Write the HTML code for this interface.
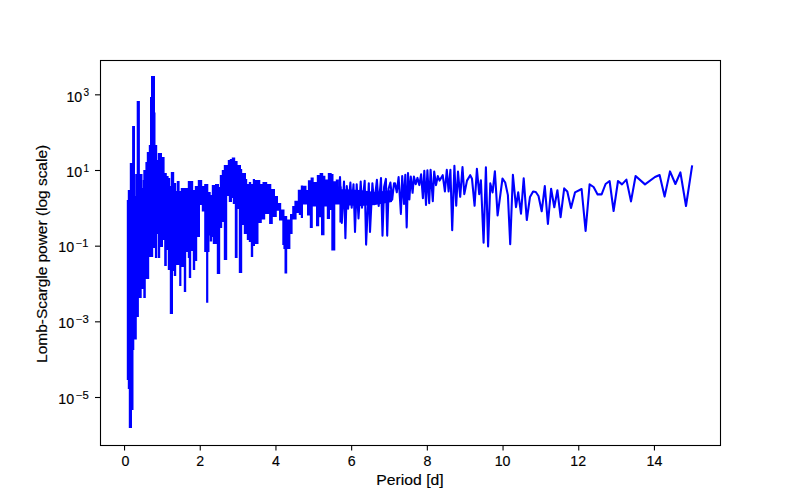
<!DOCTYPE html>
<html><head><meta charset="utf-8">
<style>
html,body{margin:0;padding:0;background:#fff;}
svg{display:block;}
text{font-family:"Liberation Sans",sans-serif;fill:#000;stroke:#000;stroke-width:0.15px;}
</style></head>
<body>
<svg width="800" height="500" viewBox="0 0 800 500">
<rect x="0" y="0" width="800" height="500" fill="#fff"/>
<path fill="#0000ff" d="M126.8 200h2.2v180h-2.2zM127.8 190h2.2v199h-2.2zM128.8 190h2.2v238h-2.2zM129.8 163h2.2v265h-2.2zM131.3 163h2.2v247h-2.2zM132.1 126h2.2v224h-2.2zM132.8 126h2.2v213.5h-2.2zM134.6 196h2.2v143.5h-2.2zM135.2 174h2.2v143h-2.2zM136.7 101h2.2v216h-2.2zM137.3 101h2.6v197h-2.6zM139.5 174h2.2v124h-2.2zM140.3 174h2.2v115h-2.2zM141.8 188h2.2v101h-2.2zM142.8 180h2.2v109h-2.2zM143.3 170h2.5v128h-2.5zM145.4 162h2.2v117h-2.2zM146.8 152h2.4v127h-2.4zM148.8 145h2.2v112h-2.2zM150 97h2.2v160h-2.2zM151 76h2.2v181h-2.2zM151.4 76h2.2v167h-2.2zM152.8 76h2.2v172h-2.2zM153.3 112.6h2.2v135.4h-2.2zM154.9 145h2.3v113h-2.3zM156.8 160h2.2v74h-2.2zM157.8 153h2.4v105h-2.4zM159.8 153h2.2v94h-2.2zM160.8 157h2.2v90h-2.2zM161.8 157h2.8v83h-2.8zM164.2 173h2.6v93h-2.6zM166.4 176h2.2v74h-2.2zM167.8 178h2.4v92h-2.4zM169.8 186h2.2v128h-2.2zM170.8 172h2.2v142h-2.2zM171.8 172h2.4v99h-2.4zM173.8 183h2.4v93h-2.4zM175.8 191h2.2v74h-2.2zM176.8 181h2.8v84h-2.8zM179.2 191h2.2v95h-2.2zM180.4 191h2.2v76h-2.2zM180.8 188h3.4v79h-3.4zM183.8 188h2.4v104h-2.4zM185.8 188h2.4v64h-2.4zM187.8 181h2.2v77h-2.2zM188.8 181h2.4v97h-2.4zM190.8 181h2.4v70h-2.4zM192.8 190h2.4v80h-2.4zM194.8 186h2.4v75h-2.4zM196.8 186h2.2v51h-2.2zM197.8 180h2.2v57h-2.2zM199.4 180h2.8v25h-2.8zM201.8 186h2.8v25.6h-2.8zM204.2 184h2.3v68h-2.3zM206.1 184h2.2v118.7h-2.2zM207.3 192h2.2v60h-2.2zM208.5 192h2.2v43.6h-2.2zM209.8 195h2.4v46.6h-2.4zM211.8 185h2.2v52h-2.2zM212.8 185h2.6v59h-2.6zM215 184h2.2v60h-2.2zM216.8 184h2.2v90h-2.2zM217.8 187h2.4v87h-2.4zM219.8 175h2.4v53h-2.4zM221.8 170h2.4v52h-2.4zM223.8 165h3.4v95h-3.4zM226.8 165h2.2v31h-2.2zM227.8 160h2.2v36h-2.2zM228.8 160h2.2v42h-2.2zM229.8 159h2.2v43h-2.2zM230.8 159h2.2v39h-2.2zM231.8 157.4h2.2v40.6h-2.2zM232.8 157.4h2.4v46.6h-2.4zM234.8 161h2.8v97h-2.8zM237.2 165h2.2v44h-2.2zM238.8 165h2.2v108h-2.2zM239.8 169h2.4v104h-2.4zM241.8 173h2.4v52h-2.4zM243.8 173h2.2v61h-2.2zM244.8 179h2.4v55h-2.4zM246.8 184h2.4v56h-2.4zM248.8 182h2.4v60h-2.4zM250.8 184h2.4v73h-2.4zM252.8 179h2.2v67h-2.2zM254.6 180h3.9v64h-3.9zM258.1 180h2.2v43h-2.2zM259.2 184h2.6v39h-2.6zM261.4 184h2.2v35.5h-2.2zM262.5 182h2.7v37.5h-2.7zM264.8 182h2.4v32h-2.4zM266.8 184h2.7v30h-2.7zM269.1 184h2.2v40h-2.2zM270.2 189h2.6v35h-2.6zM272.4 189h2.6v28h-2.6zM274.6 196h2.2v21h-2.2zM275.8 196h2.2v14.7h-2.2zM276.8 203h2.6v7.7h-2.6zM279 203h2.2v17.6h-2.2zM280.1 209.6h2.6v11h-2.6zM282.3 209.6h2.2v35.4h-2.2zM283.4 216h2.2v33h-2.2zM284.5 216h2.7v57.4h-2.7zM286.8 219.5h3.6v29.5h-3.6zM290 214h2.6v20h-2.6zM292.2 206h2.6v13.5h-2.6zM294.4 200.8h2.2v18.7h-2.2zM295.5 200.8h2.7v12.2h-2.7zM297.8 189.8h2.2v23.2h-2.2zM298.8 189.8h2.4v25.2h-2.4zM300.8 185.4h2.2v32.6h-2.2zM302.5 185.7h4v18.9h-4zM306.1 190h2.2v14.6h-2.2zM307 190h2.2v25.4h-2.2zM307.9 180.3h2.3v35.1h-2.3zM309.8 180.3h2.2v47.7h-2.2zM310.6 177.6h2.2v50.4h-2.2zM311.5 177.6h2.2v28.8h-2.2zM313.3 182h3.1v24.4h-3.1zM316 182h2.2v44.2h-2.2zM316.8 175h2.4v51.2h-2.4zM318.8 175h2.2v42.2h-2.2zM319.6 173h2.2v44.2h-2.2zM321 173h2.2v62.2h-2.2zM322.3 175.8h2.2v59.4h-2.2zM322.8 175.8h2.6v30.6h-2.6zM325 179.4h2.2v27h-2.2zM326.8 179.4h2.2v39.6h-2.2zM327.8 173h2.2v46h-2.2zM329.5 173h2.2v37h-2.2zM330.4 174h2.2v36h-2.2zM331.3 174h2.2v76.5h-2.2zM333.1 181.2h2.2v69.3h-2.2zM334 181.2h2.2v23.4h-2.2zM335.8 179.4h3.1v25.2h-3.1zM338.5 186.6h2.2v18h-2.2zM339.4 186.6h2.2v36h-2.2zM340 189L360 190L375 192L392 190L392 202L375 205L360 206L340 205z"/>
<polyline fill="none" stroke="#0000ff" stroke-width="2.08" stroke-linejoin="round" stroke-linecap="square" points="339.5,186 340,177.1 341.8,223 344,181.6 345.4,238.3 346.8,186.1 348.1,208.6 350.4,182.5 351.7,207.7 353.5,184.3 355,232 356.7,184.3 358.5,218.5 360.7,181.6 362,207.7 364.7,180.7 366.1,244.6 368.8,183.4 370,232 372.4,183.4 374.2,204.1 376.9,179.8 378.7,205.9 381,178 382.5,235.6 384.1,187 385.9,178.9 387.2,235.6 388.6,188.8 390.4,182.5 392.2,199.6 394,183.4 395,183.3 396.8,192.3 398.6,177 400.9,213.9 402.2,176.1 404,204 405.3,174.8 406.7,227.4 408,173 409.4,199.5 410.8,176.6 412.6,192.8 413.9,176.6 415.7,184.2 417.5,177.9 419.3,185.1 421.1,174.3 422.9,198.2 424.3,170.7 426,204.9 427.4,170.2 429.2,203.1 430.6,169.8 432.8,201.3 434.2,171.6 436,185.1 437.8,176.1 439.6,180.6 442.7,175.2 444.9,191.4 446.8,169.8 448.6,191.4 450.4,169.8 452.2,230.1 454.4,165.8 456.2,205.8 458,171.6 460.2,196.8 462.5,167.1 464.3,194.1 467,180.6 470.2,175.2 472,178.8 474.6,205.8 476.9,168.9 479.2,194.1 480.9,180.2 483.6,242.8 485.9,167.2 488.1,246.4 490.3,183.4 492.6,192.4 494.9,171.2 497.6,215.4 502.5,178.5 505.2,182.5 507.9,195.1 510.2,244.2 512.9,174.8 516,207.2 518.2,192.4 521,213.6 523.7,178.4 526.8,220 530,196.9 533.1,191.5 535.8,192 538.5,196 541.7,211.3 544.8,186.1 547.9,223.9 551.1,188.8 554.3,207.2 557.4,190.2 560.6,217.2 564.2,188.4 567.3,191.5 571,208 575,192.4 581.6,189 585.6,231 589.6,184.4 593.6,187 597.6,194.4 601.6,194.4 605.6,184 609.6,181 613.6,211 618,181 622,184.4 626.4,179.6 631,201.4 635.6,176 645,184.4 655,177 659.6,175 664.6,196.6 670,171.4 675.4,184 680.4,172.4 686,206 692,166.4"/>
<rect x="100.5" y="60.5" width="620" height="385" fill="none" stroke="#000" stroke-width="1.1"/>
<g stroke="#000" stroke-width="1.1">
<line x1="124.55" y1="445" x2="124.55" y2="450.6"/>
<line x1="200.25" y1="445" x2="200.25" y2="450.6"/>
<line x1="275.95" y1="445" x2="275.95" y2="450.6"/>
<line x1="351.65" y1="445" x2="351.65" y2="450.6"/>
<line x1="427.35" y1="445" x2="427.35" y2="450.6"/>
<line x1="503.05" y1="445" x2="503.05" y2="450.6"/>
<line x1="578.75" y1="445" x2="578.75" y2="450.6"/>
<line x1="654.45" y1="445" x2="654.45" y2="450.6"/>
<line x1="95" y1="94.83" x2="100" y2="94.83"/>
<line x1="95" y1="170.5" x2="100" y2="170.5"/>
<line x1="95" y1="246.17" x2="100" y2="246.17"/>
<line x1="95" y1="321.83" x2="100" y2="321.83"/>
<line x1="95" y1="397.5" x2="100" y2="397.5"/>
</g>
<g font-size="14.2" text-anchor="middle">
<text x="125.4" y="466">0</text>
<text x="200.25" y="466">2</text>
<text x="275.95" y="466">4</text>
<text x="351.65" y="466">6</text>
<text x="427.35" y="466">8</text>
<text x="502.55" y="466">10</text>
<text x="578.25" y="466">12</text>
<text x="654.45" y="466">14</text>
</g>
<g font-size="14.2" text-anchor="end">
<text x="82.2" y="101.5">10</text>
<text x="82.1" y="177.2">10</text>
<text x="74.1" y="251.8">10</text>
<text x="74.1" y="328.1">10</text>
<text x="74.1" y="404">10</text>
</g>
<g font-size="10" text-anchor="end">
<text x="89" y="95.6">3</text>
<text x="89" y="172.3">1</text>
<text x="75.9" y="246.8" text-anchor="start" textLength="12.4" lengthAdjust="spacingAndGlyphs">−1</text>
<text x="75.9" y="323.1" text-anchor="start" textLength="12.9" lengthAdjust="spacingAndGlyphs">−3</text>
<text x="75.9" y="399" text-anchor="start" textLength="12.9" lengthAdjust="spacingAndGlyphs">−5</text>
</g>
<text x="410" y="484.5" font-size="14.2" text-anchor="middle" textLength="67.3" lengthAdjust="spacingAndGlyphs">Period [d]</text>
<text transform="translate(47.4,253.9) rotate(-90)" font-size="14.2" text-anchor="middle" textLength="218" lengthAdjust="spacingAndGlyphs">Lomb-Scargle power (log scale)</text>
</svg>
</body></html>
